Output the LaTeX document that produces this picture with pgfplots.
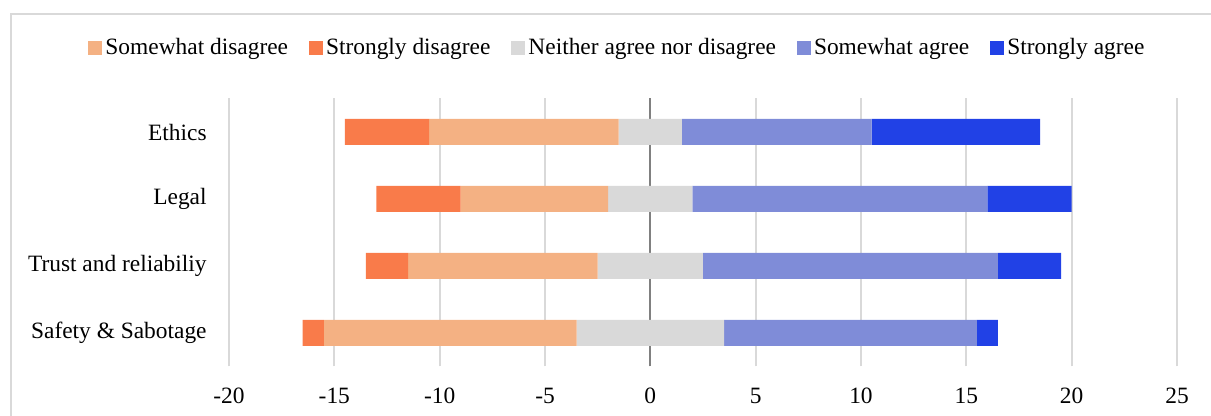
\documentclass[border=0pt]{standalone}
\usepackage{pgfplots}
\pgfplotsset{compat=1.18}
\usepackage{pgfplotstable}
\usepackage{fontspec}
\setmainfont{Liberation Serif}

\definecolor{swdis}{HTML}{F4B183}
\definecolor{sdis}{HTML}{F97B4A}
\definecolor{neut}{HTML}{D9D9D9}
\definecolor{swag}{HTML}{7F8CD8}
\definecolor{sag}{HTML}{2141E6}
\definecolor{gridc}{HTML}{D9D9D9}
\definecolor{zeroc}{HTML}{808080}

% pos: row position (0 = bottom), base = left end of the bar
% (strongly + somewhat disagree + half of the neutral share, negated)
\pgfplotstableread{
pos  base   SD  SWD  N  SWA  SA
3    -14.5  4   9    3  9    8
2    -13    4   7    4  14   4
1    -13.5  2   9    5  14   3
0    -16.5  1   12   7  12   1
}\likert

\begin{document}
\begin{tikzpicture}
\begin{axis}[
  at={(0,0)}, anchor=south west,
  scale only axis,
  width=474pt, height=134pt,
  xbar stacked,
  stack negative=on previous,
  bar width=13pt,
  xmin=-20, xmax=25,
  ymin=-0.5, ymax=3.5,
  xtick={-20,-15,...,25},
  ytick={0,1,2,3},
  yticklabels={Safety \& Sabotage, Trust and reliabiliy, Legal, Ethics},
  major tick length=0pt,
  axis line style={draw=none},
  xmajorgrids,
  grid style={gridc, line width=0.85pt},
  font=\fontsize{11.7}{14}\selectfont,
  /pgf/number format/assume math mode=true,
  xticklabel style={inner ysep=0pt, yshift=-10.5pt},
  yticklabel style={inner xsep=0pt, xshift=-11pt},
  legend columns=5,
  legend style={
    at={(0.4103,1.1884)}, anchor=center,
    draw=none, fill=none,
    font=\fontsize{11.7}{14}\selectfont,
    /tikz/every even column/.append style={column sep=9pt},
    nodes={inner xsep=1.5pt},
  },
  legend image code/.code={\fill[#1, draw=none] (0pt,-3.5pt) rectangle (7pt,3.5pt);},
]
% invisible offset bar: shifts each stack so that the neutral share is centred on 0
\addplot[draw=none, fill=none, forget plot] table[x=base, y=pos] {\likert};
\addplot[draw=none, fill=sdis,  forget plot] table[x=SD,  y=pos] {\likert};
\addplot[draw=none, fill=swdis, forget plot] table[x=SWD, y=pos] {\likert};
\addplot[draw=none, fill=neut,  forget plot] table[x=N,   y=pos] {\likert};
\addplot[draw=none, fill=swag,  forget plot] table[x=SWA, y=pos] {\likert};
\addplot[draw=none, fill=sag,   forget plot] table[x=SA,  y=pos] {\likert};

\addlegendimage{draw=none, fill=swdis}\addlegendentry{Somewhat disagree}
\addlegendimage{draw=none, fill=sdis}\addlegendentry{Strongly disagree}
\addlegendimage{draw=none, fill=neut}\addlegendentry{Neither agree nor disagree}
\addlegendimage{draw=none, fill=swag}\addlegendentry{Somewhat agree}
\addlegendimage{draw=none, fill=sag}\addlegendentry{Strongly agree}

% zero reference line
\draw[zeroc, line width=1.1pt] (axis cs:0,-0.5) -- (axis cs:0,3.5);
\end{axis}

% chart frame (left and top edges)
\draw[gridc, line width=0.75pt] (-109pt,-30pt) -- (-109pt,176.25pt) -- (500pt,176.25pt);

\pgfresetboundingbox
\path[use as bounding box] (-114.5pt,-24.75pt) rectangle (491pt,183.25pt);
\end{tikzpicture}
\end{document}
